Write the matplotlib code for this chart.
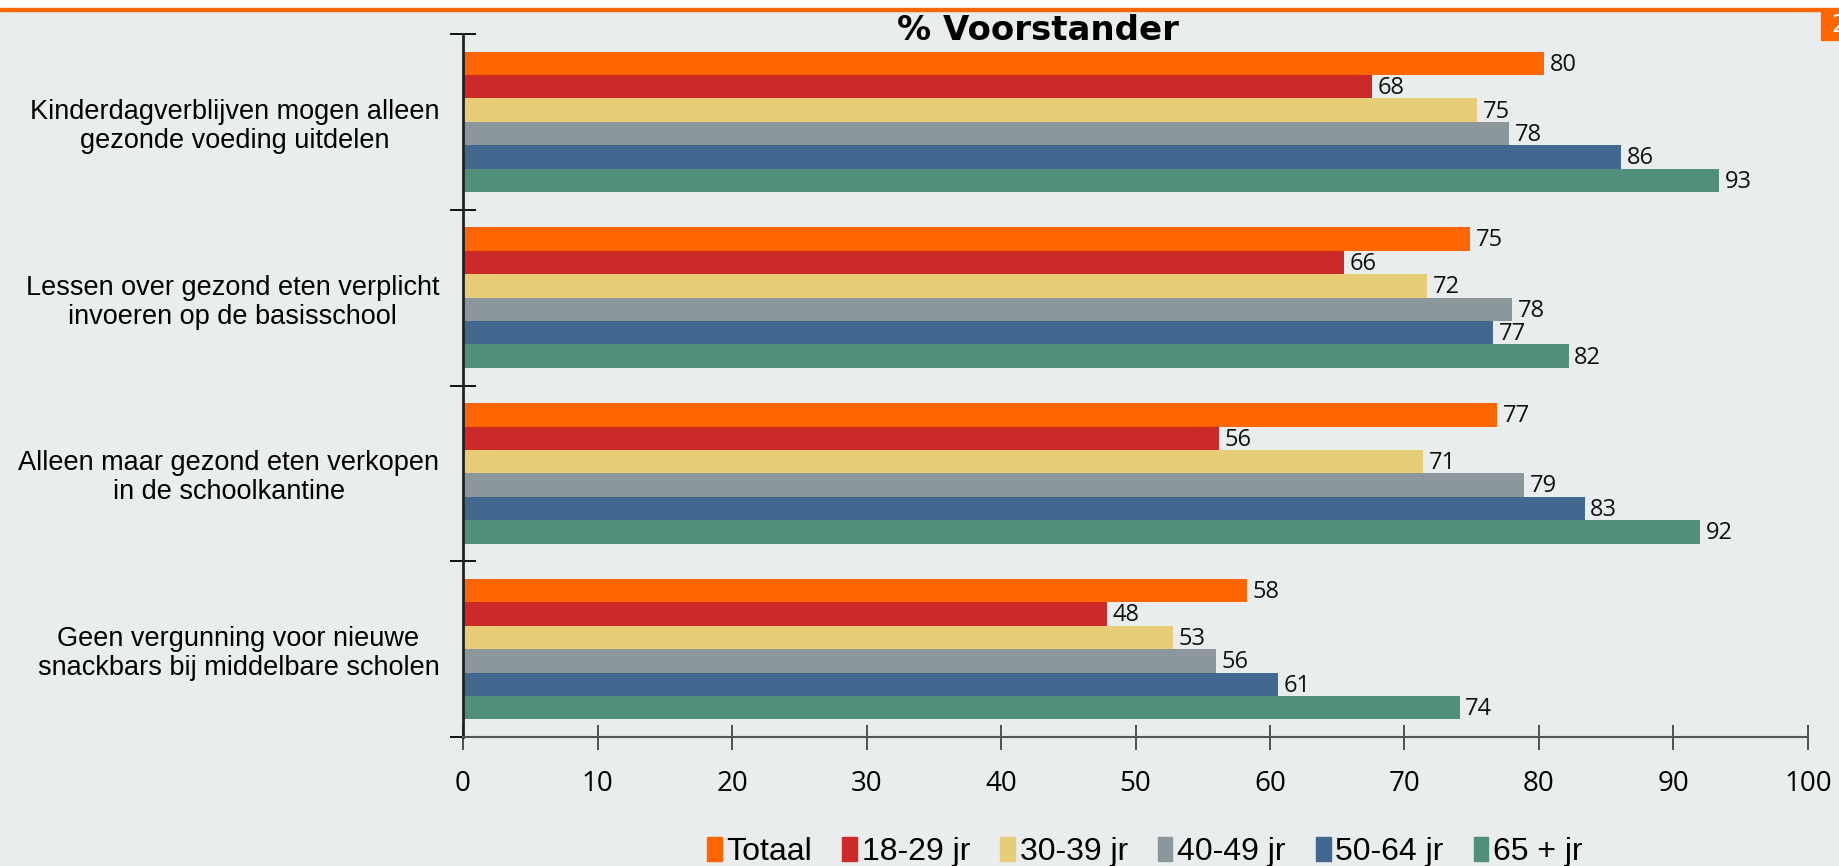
import matplotlib.pyplot as plt
import matplotlib.patches as mpatches
from matplotlib import font_manager
import numpy as np

# Data
categories = ['Kinderdagverblijven mogen alleen\ngezonde voeding uitdelen',
              'Lessen over gezond eten verplicht\ninvoeren op de basisschool',
              'Alleen maar gezond eten verkopen\nin de schoolkantine',
              'Geen vergunning voor nieuwe\nsnackbars bij middelbare scholen']
groups = ['Totaal', '18-29 jr', '30-39 jr', '40-49 jr', '50-64 jr', '65 + jr']
# bar lengths (per group, one value per category)
totaal = [80.4, 74.9, 76.9, 58.3]
j18_29 = [67.6, 65.5, 56.2, 47.9]
j30_39 = [75.4, 71.7, 71.4, 52.8]
j40_49 = [77.8, 78.0, 78.9, 56.0]
j50_64 = [86.1, 76.6, 83.4, 60.6]
j65 = [93.4, 82.2, 92.0, 74.1]
# printed labels
lab_totaal = [80, 75, 77, 58]
lab_18_29 = [68, 66, 56, 48]
lab_30_39 = [75, 72, 71, 53]
lab_40_49 = [78, 78, 79, 56]
lab_50_64 = [86, 77, 83, 61]
lab_65 = [93, 82, 92, 74]

series = [totaal, j18_29, j30_39, j40_49, j50_64, j65]
labels = [lab_totaal, lab_18_29, lab_30_39, lab_40_49, lab_50_64, lab_65]
mycolors = ['#FF6600', '#CC2929', '#E8CD78', '#8C979B', '#426890', '#50907A']
bg = '#E9EDEE'

avail = {f.name for f in font_manager.fontManager.ttflist}
narrow = 'Liberation Sans Narrow' if 'Liberation Sans Narrow' in avail else 'Liberation Sans'

# Draw Plot
fig = plt.figure(figsize=(18.4, 8.66), dpi=100, facecolor=bg)
ax = fig.add_axes([463/1840, 1-737/866, (1808-463)/1840, (737-34)/866])
ax.set_facecolor(bg)

y = np.arange(len(categories))
h = 0.8 / len(series)
for i, (vals, labs) in enumerate(zip(series, labels)):
    pos = y + (i - 2.5) * h
    ax.barh(pos, vals, height=h, color=mycolors[i], label=groups[i], linewidth=0)
    for p, v, l in zip(pos, vals, labs):
        ax.annotate(str(l), (v, p), xytext=(4, -1), textcoords='offset points',
                    va='center', ha='left', fontsize=17, family='Open Sans', color='#111111')

ax.set_xlim(0, 100)
ax.set_ylim(-0.5, len(categories) - 0.5)
ax.invert_yaxis()

# ticks
ax.set_xticks(np.arange(0, 101, 10))
ax.tick_params(axis='x', direction='inout', length=18, width=1.3, color='#444444',
               labelsize=20, pad=15)
for t in ax.get_xticklabels():
    t.set_family('Open Sans')
ax.set_yticks(np.arange(-0.5, len(categories), 1.0))
ax.set_yticklabels([])
ax.tick_params(axis='y', which='major', direction='inout', length=19, width=1.4, color='#111111')
ax.set_yticks(y, minor=True)
ax.set_yticklabels(categories, minor=True)
ax.tick_params(axis='y', which='minor', length=0, pad=17, labelsize=19.5)
for t in ax.get_yticklabels(minor=True):
    t.set_family('Liberation Sans')
    t.set_multialignment('center')
    t.set_linespacing(1.15)

# spines
ax.spines['top'].set_visible(False)
ax.spines['right'].set_visible(False)
ax.spines['left'].set_color('#222222')
ax.spines['left'].set_linewidth(2)
ax.spines['bottom'].set_color('#555555')
ax.spines['bottom'].set_linewidth(1.5)

# title
fig.text(1038/1840, 1-40/866, '% Voorstander', ha='center', va='baseline',
         fontsize=24.5, fontweight='bold', family='DejaVu Sans')

# legend
handles = [mpatches.Rectangle((0, 0), 1, 1, color=c) for c in mycolors]
fig.legend(handles, groups, loc='center', bbox_to_anchor=(1145/1840, 1-852/866),
           ncol=6, frameon=False, prop={'family': narrow, 'size': 23},
           handlelength=0.45, handleheight=0.75, handletextpad=0.15, columnspacing=0.95,
           borderaxespad=0, borderpad=0)

# top band and page marker
fig.patches.append(mpatches.Rectangle((0, 1-8/866), 1, 8/866, transform=fig.transFigure,
                                      color='white', zorder=0))
fig.patches.append(mpatches.Rectangle((0, 1-10.5/866), 1, 2.5/866, transform=fig.transFigure,
                                      color='#FF6600', zorder=1))
fig.patches.append(mpatches.Rectangle((1821/1840, 1-40/866), 19/1840, 30/866,
                                      transform=fig.transFigure, color='#FF6600', zorder=1))
fig.text(1831/1840, 1-25/866, '2', ha='left', va='center', color='white', fontsize=17)

fig.savefig('out.png', dpi=100, facecolor=bg)
